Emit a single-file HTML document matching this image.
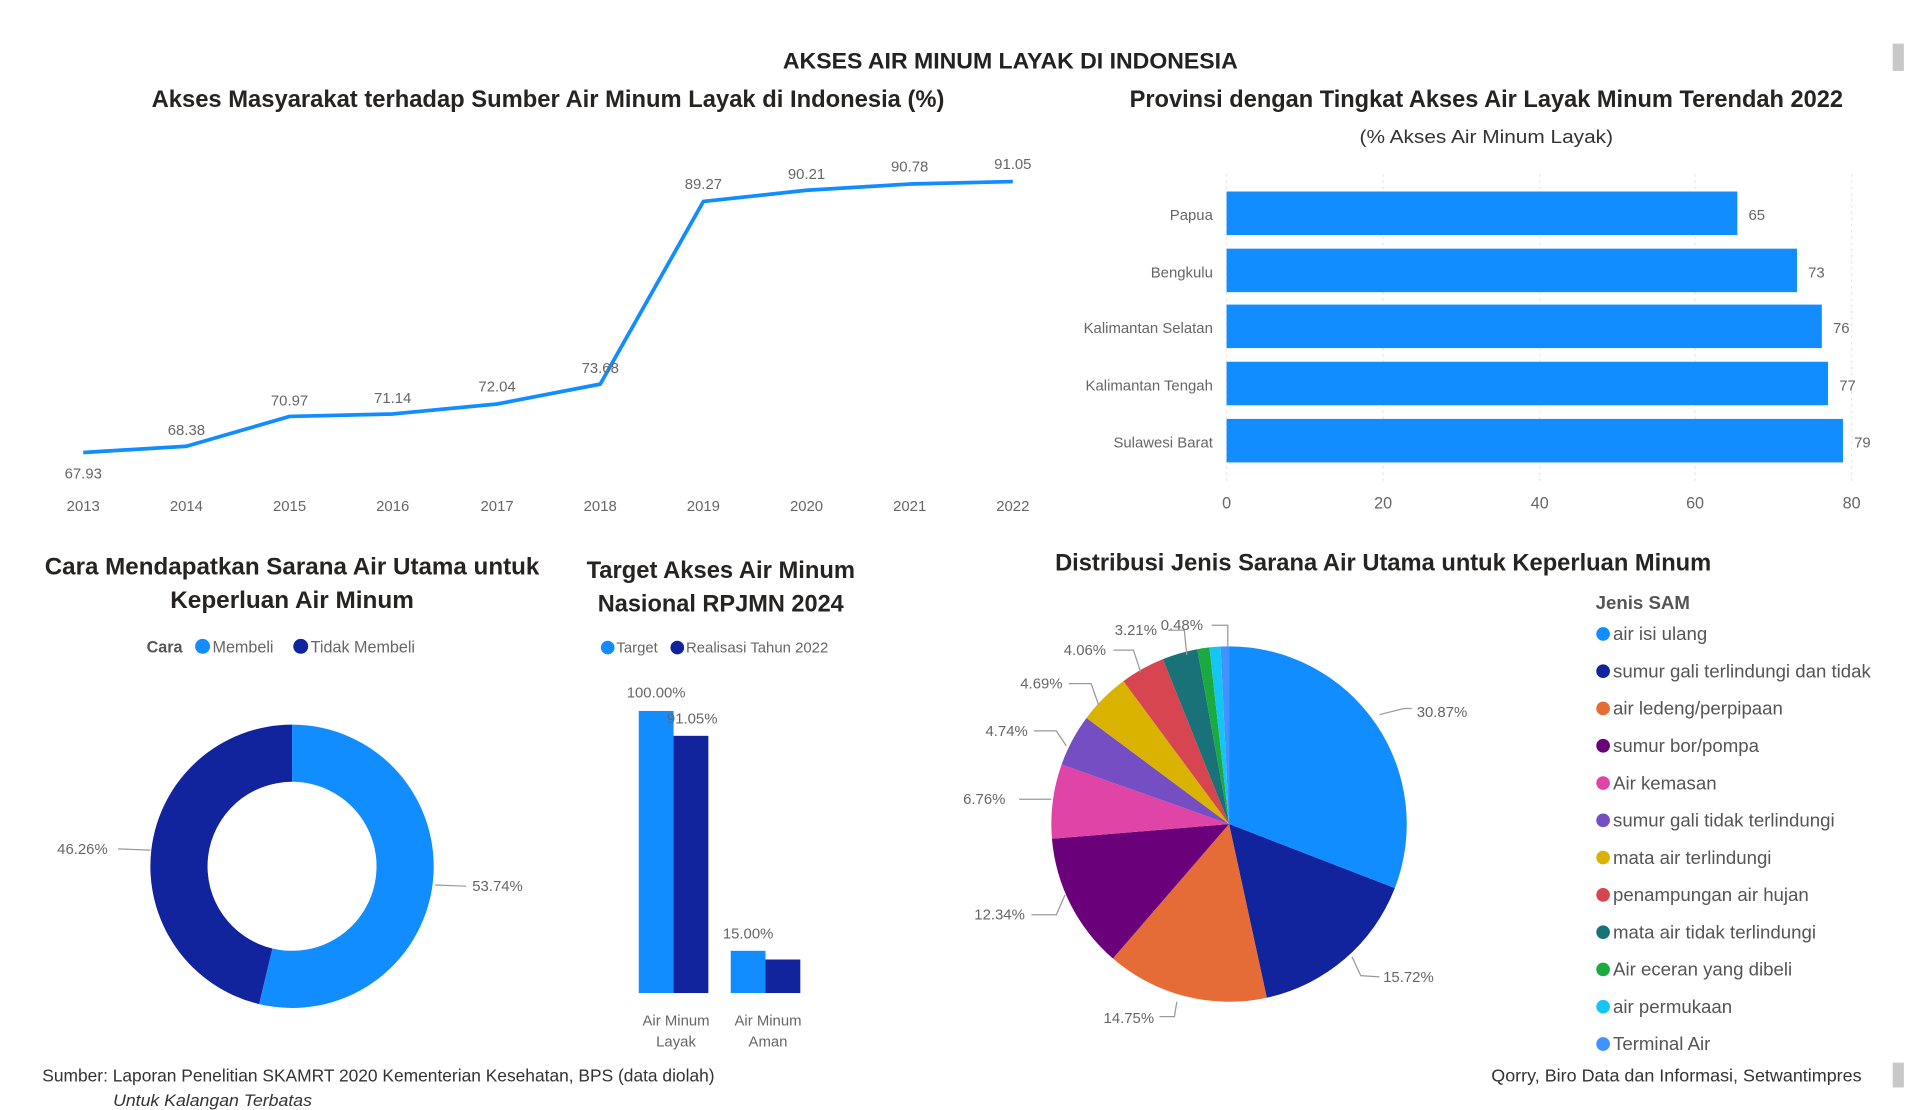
<!DOCTYPE html>
<html><head><meta charset="utf-8"><style>
html,body{margin:0;padding:0;background:#fff;width:1920px;height:1110px;overflow:hidden}
svg text{font-family:"Liberation Sans",sans-serif}
</style></head><body>
<svg id="s" width="1920" height="1110" viewBox="0 0 1545 893" xmlns="http://www.w3.org/2000/svg">
<rect x="0" y="0" width="1545" height="893" fill="#fff"/>
<rect x="1523" y="35" width="9" height="22" fill="#c8c8c8"/>
<rect x="1523" y="855" width="9" height="20" fill="#c8c8c8"/>
<text x="813" y="55" text-anchor="middle" font-size="18" font-weight="bold" fill="#222" textLength="366" lengthAdjust="spacingAndGlyphs">AKSES AIR MINUM LAYAK DI INDONESIA</text>

<!-- line chart -->
<text x="441" y="86" text-anchor="middle" font-size="19" font-weight="bold" fill="#252423" textLength="638" lengthAdjust="spacingAndGlyphs">Akses Masyarakat terhadap Sumber Air Minum Layak di Indonesia (%)</text>
<polyline fill="none" stroke="#118DFF" stroke-width="3" stroke-linejoin="round" points="67,364 150,359 233,335 316,333 400,325 483,309 566,162 649,153 732,148 815,146"/>
<g font-size="12" fill="#666" text-anchor="middle">
<text x="67" y="385">67.93</text><text x="150" y="350">68.38</text><text x="233" y="326">70.97</text><text x="316" y="324">71.14</text><text x="400" y="315">72.04</text><text x="483" y="300">73.68</text><text x="566" y="152">89.27</text><text x="649" y="144">90.21</text><text x="732" y="138">90.78</text><text x="815" y="136">91.05</text>
<text x="67" y="411">2013</text><text x="150" y="411">2014</text><text x="233" y="411">2015</text><text x="316" y="411">2016</text><text x="400" y="411">2017</text><text x="483" y="411">2018</text><text x="566" y="411">2019</text><text x="649" y="411">2020</text><text x="732" y="411">2021</text><text x="815" y="411">2022</text>
</g>

<!-- bar chart -->
<text x="1196" y="86" text-anchor="middle" font-size="19" font-weight="bold" fill="#252423" textLength="574" lengthAdjust="spacingAndGlyphs">Provinsi dengan Tingkat Akses Air Layak Minum Terendah 2022</text>
<text x="1196" y="115" text-anchor="middle" font-size="15" fill="#333" textLength="204" lengthAdjust="spacingAndGlyphs">(% Akses Air Minum Layak)</text>
<g stroke="#e6e6e6" stroke-dasharray="2,3"><line x1="987" y1="140" x2="987" y2="390"/><line x1="1113" y1="140" x2="1113" y2="390"/><line x1="1239" y1="140" x2="1239" y2="390"/><line x1="1364" y1="140" x2="1364" y2="390"/><line x1="1490" y1="140" x2="1490" y2="390"/></g>
<g fill="#118DFF">
<rect x="987" y="154" width="411" height="35"/><rect x="987" y="200" width="459" height="35"/><rect x="987" y="245" width="479" height="35"/><rect x="987" y="291" width="484" height="35"/><rect x="987" y="337" width="496" height="35"/>
</g>
<g font-size="12" fill="#666">
<text x="1407" y="177">65</text><text x="1455" y="223">73</text><text x="1475" y="268">76</text><text x="1480" y="314">77</text><text x="1492" y="360">79</text>
</g>
<g font-size="12" fill="#666" text-anchor="end">
<text x="976" y="177">Papua</text><text x="976" y="223">Bengkulu</text><text x="976" y="268">Kalimantan Selatan</text><text x="976" y="314">Kalimantan Tengah</text><text x="976" y="360">Sulawesi Barat</text>
</g>
<g font-size="13" fill="#666" text-anchor="middle">
<text x="987" y="409">0</text><text x="1113" y="409">20</text><text x="1239" y="409">40</text><text x="1364" y="409">60</text><text x="1490" y="409">80</text>
</g>

<!-- donut -->
<text x="235" y="462" text-anchor="middle" font-size="19" font-weight="bold" fill="#252423" textLength="398" lengthAdjust="spacingAndGlyphs">Cara Mendapatkan Sarana Air Utama untuk</text>
<text x="235" y="489" text-anchor="middle" font-size="19" font-weight="bold" fill="#252423" textLength="196" lengthAdjust="spacingAndGlyphs">Keperluan Air Minum</text>
<text x="118" y="525" font-size="13" font-weight="bold" fill="#555">Cara</text>
<circle cx="163" cy="520" r="6" fill="#118DFF"/><text x="171" y="525" font-size="13" fill="#666">Membeli</text>
<circle cx="242" cy="520" r="6" fill="#12239E"/><text x="250" y="525" font-size="13" fill="#666">Tidak Membeli</text>
<g id="donut"></g>
<g stroke="#999" fill="none"><polyline points="350,712 375,713"/><polyline points="95,683 121,684"/></g>
<text x="380" y="717" font-size="12" fill="#666">53.74%</text>
<text x="46" y="687" font-size="12" fill="#666">46.26%</text>

<!-- target chart -->
<text x="580" y="465" text-anchor="middle" font-size="19" font-weight="bold" fill="#252423" textLength="216" lengthAdjust="spacingAndGlyphs">Target Akses Air Minum</text>
<text x="580" y="492" text-anchor="middle" font-size="19" font-weight="bold" fill="#252423" textLength="198" lengthAdjust="spacingAndGlyphs">Nasional RPJMN 2024</text>
<circle cx="489" cy="521" r="5.5" fill="#118DFF"/><text x="496" y="525" font-size="12" fill="#666">Target</text>
<circle cx="545" cy="521" r="5.5" fill="#12239E"/><text x="552" y="525" font-size="12" fill="#666">Realisasi Tahun 2022</text>
<rect x="514" y="572" width="28" height="227" fill="#118DFF"/><rect x="542" y="592" width="28" height="207" fill="#12239E"/>
<rect x="588" y="765" width="28" height="34" fill="#118DFF"/><rect x="616" y="772" width="28" height="27" fill="#12239E"/>
<g font-size="12" fill="#666" text-anchor="middle">
<text x="528" y="561">100.00%</text><text x="557" y="582">91.05%</text><text x="602" y="755">15.00%</text>
<text x="544" y="825">Air Minum</text><text x="544" y="842">Layak</text><text x="618" y="825">Air Minum</text><text x="618" y="842">Aman</text>
</g>

<!-- pie -->
<text x="1113" y="459" text-anchor="middle" font-size="19" font-weight="bold" fill="#252423" textLength="528" lengthAdjust="spacingAndGlyphs">Distribusi Jenis Sarana Air Utama untuk Keperluan Minum</text>
<g id="pie"></g>
<g id="lbl"></g>
<text x="1284" y="490" font-size="15" font-weight="bold" fill="#555">Jenis SAM</text>
<g id="leg"></g>

<text x="34" y="870" font-size="14" fill="#333" textLength="541" lengthAdjust="spacingAndGlyphs">Sumber: Laporan Penelitian SKAMRT 2020 Kementerian Kesehatan, BPS (data diolah)</text>
<text x="91" y="890" font-size="13" font-style="italic" fill="#333" textLength="160" lengthAdjust="spacingAndGlyphs">Untuk Kalangan Terbatas</text>
<text x="1498" y="870" text-anchor="end" font-size="14" fill="#333" textLength="298" lengthAdjust="spacingAndGlyphs">Qorry, Biro Data dan Informasi, Setwantimpres</text>
</svg>
<script>
var NS="http://www.w3.org/2000/svg";
function el(p,t,a,txt){var e=document.createElementNS(NS,t);for(var k in a)e.setAttribute(k,a[k]);if(txt)e.textContent=txt;document.getElementById(p).appendChild(e);return e;}
function pt(cx,cy,r,a){return [cx+r*Math.sin(a),cy-r*Math.cos(a)];}
function arc(cx,cy,r,ri,a0,a1){var L=(a1-a0)>Math.PI?1:0;var p0=pt(cx,cy,r,a0),p1=pt(cx,cy,r,a1);
 if(ri===0)return "M"+cx+","+cy+"L"+p0+"A"+r+","+r+" 0 "+L+" 1 "+p1+"Z";
 var q1=pt(cx,cy,ri,a1),q0=pt(cx,cy,ri,a0);
 return "M"+p0+"A"+r+","+r+" 0 "+L+" 1 "+p1+"L"+q1+"A"+ri+","+ri+" 0 "+L+" 0 "+q0+"Z";}
var T=2*Math.PI;
var a=0.5374*T;
el("donut","path",{d:arc(235,697,114,68,0,a),fill:"#118DFF"});
el("donut","path",{d:arc(235,697,114,68,a,T-0.0001),fill:"#12239E"});
var d=[[30.87,"#118DFF"],[15.72,"#12239E"],[14.75,"#E66C37"],[12.34,"#6B007B"],[6.76,"#E044A7"],[4.74,"#744EC2"],[4.69,"#D9B300"],[4.06,"#D64550"],[3.21,"#197278"],[1.1,"#1AAB40"],[1.0,"#15C6F4"],[0.76,"#4092FF"]];
var s=0;d.forEach(function(x){s+=x[0];});
var c=0;d.forEach(function(x){var a0=c/s*T,a1=(c+x[0])/s*T;el("pie","path",{d:arc(989,663,143,0,a0,a1),fill:x[1]});c+=x[0];});
var L=[["30.87%",1140,577],["15.72%",1113,790],["14.75%",888,823],["12.34%",784,740],["6.76%",775,647],["4.74%",793,592],["4.69%",821,554],["4.06%",856,527],["3.21%",897,511],["0.48%",934,507]];
L.forEach(function(l){el("lbl","text",{x:l[1],y:l[2],"font-size":12,fill:"#666"},l[0]);});
var ld=[[1110,575,1130,570,1136,570],[1088,770,1095,785,1110,786],[947,806,945,818,933,818],[857,720,850,736,830,736],[846,643,820,643],[858,600,850,588,832,588],[884,567,878,550,860,550],[918,541,912,523,896,523],[955,527,953,507,940,507],[988,520,988,503,975,503]];
ld.forEach(function(p){el("lbl","polyline",{points:p.join(","),fill:"none",stroke:"#999"});});
var names=["air isi ulang","sumur gali terlindungi dan tidak","air ledeng/perpipaan","sumur bor/pompa","Air kemasan","sumur gali tidak terlindungi","mata air terlindungi","penampungan air hujan","mata air tidak terlindungi","Air eceran yang dibeli","air permukaan","Terminal Air"];
names.forEach(function(n,i){var y=510+i*30;el("leg","circle",{cx:1290,cy:y,r:5.5,fill:d[i][1]});el("leg","text",{x:1298,y:y+5,"font-size":15,fill:"#555"},n);});
</script>
</body></html>
